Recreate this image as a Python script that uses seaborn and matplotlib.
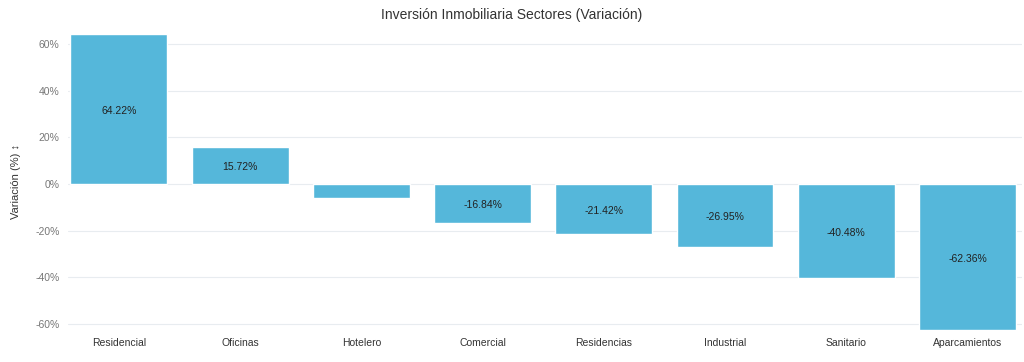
import matplotlib
matplotlib.use("Agg")
import numpy as np
import pandas as pd
import seaborn as sns
from matplotlib import pyplot as plt
from matplotlib.ticker import FuncFormatter

sectores = ["Residencial", "Oficinas", "Hotelero", "Comercial", "Residencias",
            "Industrial", "Sanitario", "Aparcamientos"]
variacion = [64.22, 15.72, -6.2, -16.84, -21.42, -26.95, -40.48, -62.36]
# values small enough have no label inside the bar
mostrar_etiqueta = [True, True, False, True, True, True, True, True]

df = pd.DataFrame({"sector": sectores, "variacion": variacion})

sns.set_theme(style="white")
plt.rcParams["font.family"] = ["Arial", "Liberation Sans", "DejaVu Sans"]

fig = plt.figure(figsize=(10.24, 3.62), dpi=100)
ax = fig.add_axes([68 / 1024, 1 - 329.5 / 362, (1022 - 68) / 1024, (329.5 - 34) / 362])

sns.barplot(data=df, x="sector", y="variacion", color="#55b7da", width=0.8,
            saturation=1, ax=ax, zorder=2)

for i, (v, show) in enumerate(zip(variacion, mostrar_etiqueta)):
    if show:
        ax.text(i, v / 2 - 0.8, f"{v:.2f}%", ha="center", va="center",
                fontsize=7.5, color="#222222", zorder=3)

ax.set_ylim(min(variacion), max(variacion))
ax.set_xlim(-0.42, 7.45)
ax.set_yticks([-60, -40, -20, 0, 20, 40, 60])
ax.yaxis.set_major_formatter(FuncFormatter(lambda y, _: f"{y:.0f}%"))
ax.grid(axis="y", color="#e8ecf0", linewidth=0.8, zorder=0)
for s in ax.spines.values():
    s.set_visible(False)
ax.tick_params(axis="y", labelsize=7.5, labelcolor="#777777", length=0, pad=6)
ax.tick_params(axis="x", labelsize=7.5, labelcolor="#333333", length=0, pad=6)
ax.set_xlabel("")
ax.set_ylabel("Variación (%) ↕", fontsize=8, color="#333333", labelpad=10)
fig.suptitle("Inversión Inmobiliaria Sectores (Variación)", x=0.5, y=1 - 15 / 362,
             va="center", fontsize=10, color="#333333")

fig.savefig("out.png", dpi=100)
